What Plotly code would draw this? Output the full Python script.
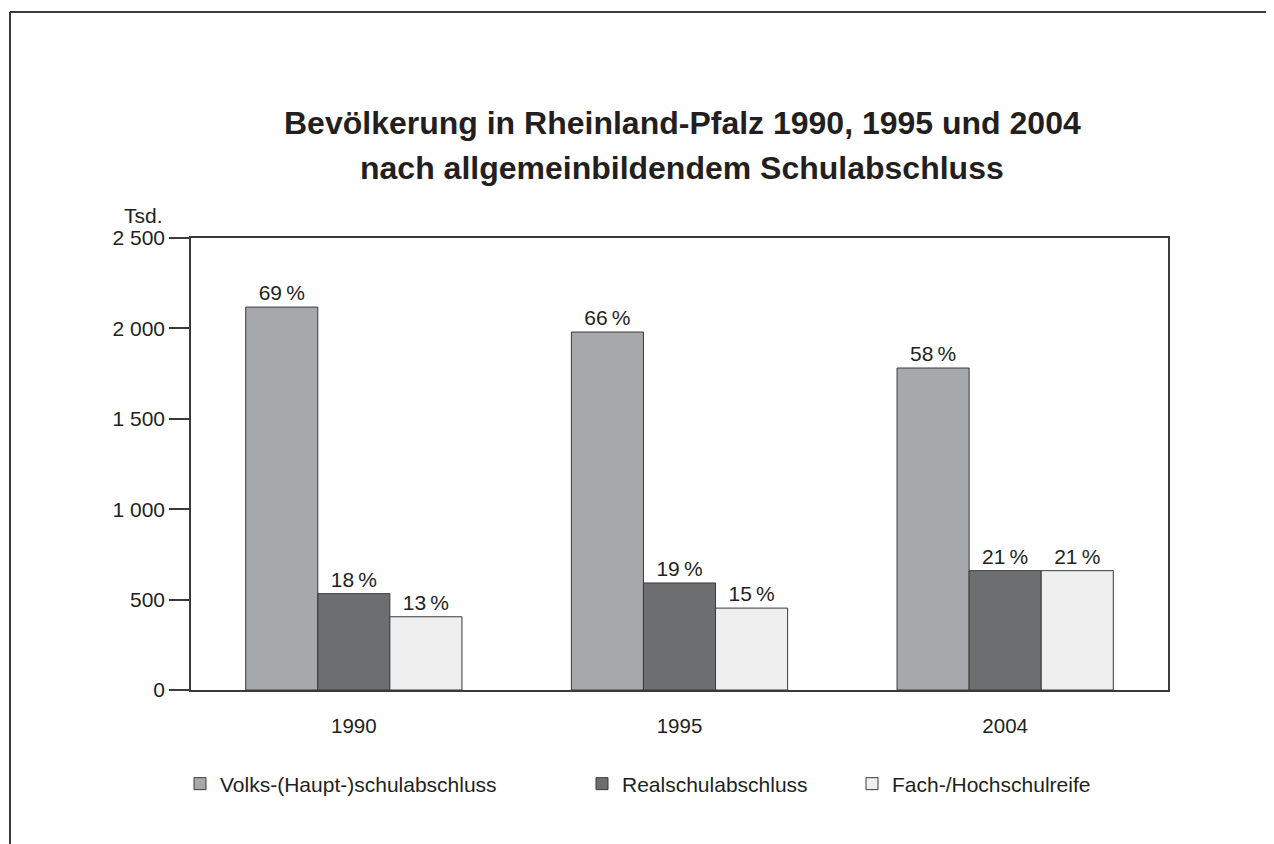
import plotly.graph_objects as go

years = ["1990", "1995", "2004"]
series_names = ["Volks-(Haupt-)schulabschluss", "Realschulabschluss", "Fach-/Hochschulreife"]
volks = [2118, 1980, 1781]
real = [533, 592, 660]
fach = [405, 453, 660]
volks_pct = ["69\u2009%", "66\u2009%", "58\u2009%"]
real_pct = ["18\u2009%", "19\u2009%", "21\u2009%"]
fach_pct = ["13\u2009%", "15\u2009%", "21\u2009%"]
y_tickvals = [0, 500, 1000, 1500, 2000, 2500]
y_ticktext = ["0", "500", "1 000", "1 500", "2 000", "2 500"]
title_lines = ["Bevölkerung in Rheinland-Pfalz 1990, 1995 und 2004",
               "nach allgemeinbildendem Schulabschluss"]
colors = ["#a7a8ab", "#6d6e70", "#efefef"]

FONT = "Liberation Sans, Arial, sans-serif"
TXT = "#231f20"
LINE = "#3a3a3a"

OFF = 8  # page body margin offset
W, H = 1274, 844
# plot area in screen coords (reference): left 191, right 1168, top 238, bottom 690
L = 191 - OFF
T = 238 - OFF
R = W - (1168 - OFF)
B = H - (690 - OFF)
pw, ph = W - L - R, H - T - B

def sx(x):
    return (x - OFF - L) / pw

def sy(y):
    return (H - B - (y - OFF)) / ph

fig = go.Figure()
data = [volks, real, fach]
pcts = [volks_pct, real_pct, fach_pct]
legend_ids = ["legend", "legend2", "legend3"]
for name, vals, pct, col, lg in zip(series_names, data, pcts, colors, legend_ids):
    fig.add_trace(go.Bar(
        x=years, y=vals, name=name, text=pct, textposition="outside",
        textfont=dict(family=FONT, size=21, color=TXT),
        marker=dict(color=col, line=dict(color=LINE, width=1)),
        cliponaxis=False, legend=lg,
    ))

leg_common = dict(orientation="h", yanchor="middle", xanchor="left",
                  font=dict(family=FONT, size=21, color=TXT),
                  bgcolor="rgba(0,0,0,0)", borderwidth=0)

annotations = [dict(
    text="Tsd.", x=sx(165), y=sy(215), xref="paper", yref="paper",
    xanchor="right", yanchor="middle", showarrow=False,
    font=dict(family=FONT, size=21, color=TXT),
)]
for line_text, yc in zip(title_lines, [123, 168]):
    annotations.append(dict(
        text="<b>" + line_text + "</b>", x=sx(682), y=sy(yc), xref="paper", yref="paper",
        xanchor="center", yanchor="middle", showarrow=False,
        font=dict(family=FONT, size=32, color=TXT),
    ))

fig.update_layout(
    width=W, height=H,
    margin=dict(l=L, r=R, t=T, b=B),
    paper_bgcolor="white", plot_bgcolor="white",
    barmode="group", bargap=0.336, bargroupgap=0,
    font=dict(family=FONT, color=TXT, size=21),
    xaxis=dict(
        showline=True, linecolor=LINE, linewidth=1.5, mirror=True,
        ticks="outside", ticklen=17, tickcolor="rgba(0,0,0,0)",
        tickfont=dict(family=FONT, size=20.5, color=TXT),
        showgrid=False, zeroline=False,
    ),
    yaxis=dict(
        range=[0, 2500], tickvals=y_tickvals, ticktext=y_ticktext,
        showline=True, linecolor=LINE, linewidth=1.5, mirror=True,
        ticks="outside", ticklen=20, tickcolor=LINE, tickwidth=1.5,
        tickfont=dict(family=FONT, size=21, color=TXT),
        showgrid=False, zeroline=False,
    ),
    legend=dict(x=sx(180), y=sy(784), **leg_common),
    legend2=dict(x=sx(582), y=sy(784), **leg_common),
    legend3=dict(x=sx(852), y=sy(784), **leg_common),
    showlegend=True,
    annotations=annotations,
    shapes=[
        dict(type="line", xref="paper", yref="paper", x0=sx(10), x1=sx(10), y0=sy(12), y1=sy(870),
             line=dict(color=LINE, width=2)),
        dict(type="line", xref="paper", yref="paper", x0=sx(10), x1=sx(1300), y0=sy(12), y1=sy(12),
             line=dict(color=LINE, width=2)),
    ],
)

fig.write_html("out.html")
